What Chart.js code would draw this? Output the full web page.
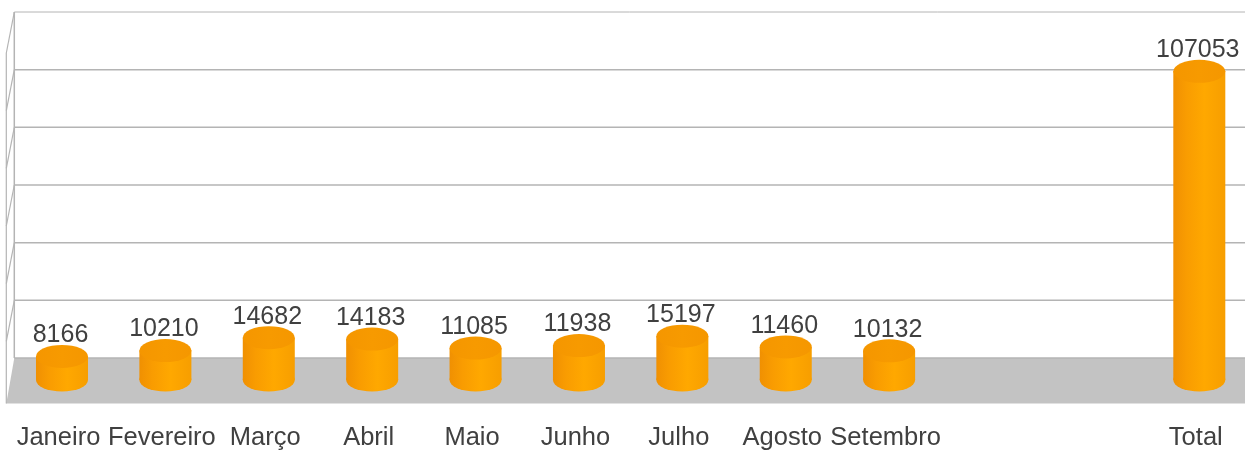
<!DOCTYPE html>
<html>
<head>
<meta charset="utf-8">
<script src="https://cdn.jsdelivr.net/npm/chart.js@4"></script>
<style>
html,body{margin:0;padding:0;background:#fff;overflow:hidden}
#wrap{width:1245px;height:450px;position:relative}
canvas{display:block}
</style>
</head>
<body>
<div id="wrap"><canvas id="c" width="1245" height="450"></canvas></div>
<script>
const categories = ['Janeiro','Fevereiro','Março','Abril','Maio','Junho','Julho','Agosto','Setembro','','','Total'];
const seriesValues = [8166,10210,14682,14183,11085,11938,15197,11460,10132,null,null,107053];
const gridTicks = [0,20000,40000,60000,80000,100000,120000];

const DEPTH = 22, SIDE_X = 8, RY = 11.5, OVERHANG = 6;
const TEXT = '#404040', GRID = '#b4b4b4', FLOOR = '#c3c3c3';
const FONT = '"Liberation Sans", Arial, sans-serif';

function bodyGradient(ctx, x, w) {
  const g = ctx.createLinearGradient(x - w/2, 0, x + w/2, 0);
  g.addColorStop(0, '#f09002');
  g.addColorStop(0.25, '#f99c01');
  g.addColorStop(0.6, '#ffa800');
  g.addColorStop(1, '#f79e00');
  return g;
}

const stretchPlugin = {
  id: 'stretch',
  afterLayout(chart) {
    const x = chart.scales.x;
    x.right += OVERHANG;
    x.width += OVERHANG;
    x.configure();
    chart.chartArea.right += OVERHANG;
    chart.chartArea.width += OVERHANG;
  }
};

const roomPlugin = {
  id: 'room',
  beforeDatasetsDraw(chart) {
    const {ctx, chartArea, scales:{y}} = chart;
    const backX = chartArea.left + 4, frontX = backX - SIDE_X, right = chart.width;
    const floorY = y.getPixelForValue(0) - DEPTH;
    ctx.save();
    // floor
    ctx.fillStyle = FLOOR;
    ctx.beginPath();
    ctx.moveTo(backX, floorY);
    ctx.lineTo(right, floorY);
    ctx.lineTo(right, floorY + 45.5);
    ctx.lineTo(frontX, floorY + 45.5);
    ctx.closePath();
    ctx.fill();
    // gridlines on back wall and side wall
    ctx.strokeStyle = GRID;
    gridTicks.forEach((t, i) => {
      const py = y.getPixelForValue(t) - DEPTH;
      ctx.lineWidth = i === gridTicks.length - 1 ? 1 : 1.5;
      ctx.beginPath();
      ctx.moveTo(backX, py);
      ctx.lineTo(right, py);
      ctx.stroke();
      if (i > 0) {
        ctx.lineWidth = 1.2;
        ctx.beginPath();
        ctx.moveTo(backX, py);
        ctx.lineTo(frontX, py + 41);
        ctx.stroke();
      }
    });
    // wall edges
    const topY = y.getPixelForValue(gridTicks[gridTicks.length-1]) - DEPTH;
    ctx.lineWidth = 1.5;
    ctx.beginPath(); ctx.moveTo(backX, topY); ctx.lineTo(backX, floorY); ctx.stroke();
    ctx.lineWidth = 1.2;
    ctx.beginPath(); ctx.moveTo(frontX, topY + 41); ctx.lineTo(frontX, floorY + 45.5); ctx.stroke();
    ctx.restore();
  }
};

const cylinderPlugin = {
  id: 'cylinder',
  beforeDatasetDraw(chart) {
    const {ctx} = chart;
    ctx.save();
    chart.getDatasetMeta(0).data.forEach((bar, i) => {
      if (seriesValues[i] == null) return;
      ctx.fillStyle = bodyGradient(ctx, bar.x, bar.width);
      ctx.beginPath();
      ctx.ellipse(bar.x, bar.base, bar.width/2, RY, 0, 0, Math.PI*2);
      ctx.fill();
    });
    ctx.restore();
  },
  afterDatasetDraw(chart) {
    const {ctx} = chart;
    ctx.save();
    chart.getDatasetMeta(0).data.forEach((bar, i) => {
      if (seriesValues[i] == null) return;
      const g = ctx.createLinearGradient(bar.x - bar.width/2, 0, bar.x + bar.width/2, 0);
      g.addColorStop(0, '#f59600');
      g.addColorStop(0.5, '#f79a00');
      g.addColorStop(1, '#f59700');
      ctx.fillStyle = g;
      ctx.beginPath();
      ctx.ellipse(bar.x, bar.y, bar.width/2, RY, 0, 0, Math.PI*2);
      ctx.fill();
      ctx.fillStyle = TEXT;
      ctx.font = '25px ' + FONT;
      ctx.textAlign = 'center';
      ctx.textBaseline = 'middle';
      ctx.fillText(String(seriesValues[i]), bar.x - 1.5, bar.y - 21);
    });
    ctx.restore();
  }
};

new Chart(document.getElementById('c'), {
  type: 'bar',
  data: {
    labels: categories,
    datasets: [{
      data: seriesValues,
      barPercentage: 0.503,
      categoryPercentage: 1,
      borderWidth: 0,
      backgroundColor(c) {
        const chart = c.chart;
        if (!chart.chartArea || c.dataIndex === undefined) return '#ffa500';
        const x = chart.scales.x.getPixelForValue(c.dataIndex);
        return bodyGradient(chart.ctx, x, 52);
      }
    }]
  },
  options: {
    responsive: false,
    animation: false,
    layout: {padding: {left: 10.3, right: 0, top: 34, bottom: 0}},
    plugins: {legend: {display: false}, tooltip: {enabled: false}},
    scales: {
      x: {
        grid: {display: false, drawTicks: false},
        border: {display: false},
        afterFit(s) { s.height = 70; s.paddingLeft = 0; s.paddingRight = 0; },
        ticks: {
          color: TEXT,
          padding: 43,
          labelOffset: -3.5,
          maxRotation: 0,
          autoSkip: false,
          font: {family: FONT, size: 25.5}
        }
      },
      y: {display: false, min: 0, max: 120000}
    }
  },
  plugins: [stretchPlugin, roomPlugin, cylinderPlugin]
});
</script>
</body>
</html>
